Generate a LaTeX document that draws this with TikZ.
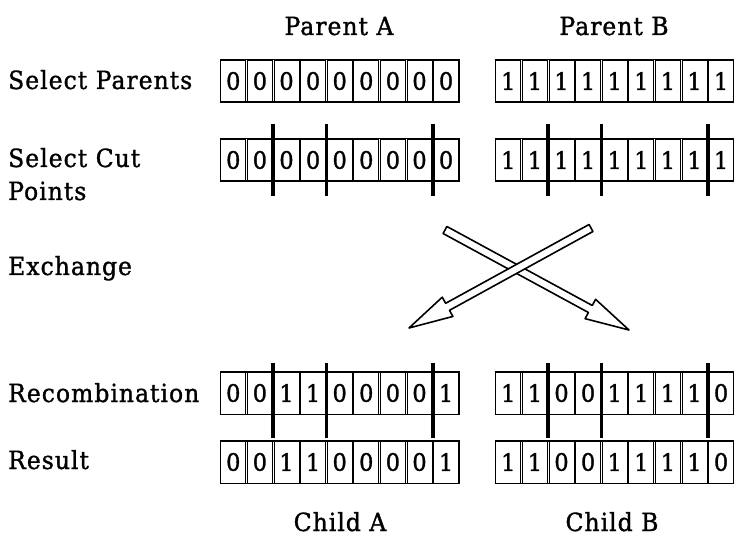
\documentclass[tikz,border=0pt]{standalone}
\usepackage{fontspec}
\setmainfont{DejaVu Serif}[FakeStretch=0.94,FakeBold=1.2,LetterSpace=4]
\newfontfamily\bitfont{DejaVu Serif}[FakeStretch=0.94,FakeBold=1.2]
\usetikzlibrary{calc,fit,positioning}

% one string of nine bits: name, left x, centre y, bits
\newcommand{\bitrow}[4]{%
  \foreach \b [count=\i] in {#4} {
    \node[bit] (#1\i) at ({#2+(\i-1)*26.6+13.3},#3) {\b};
  }
  \node[frame,fit=(#11)(#19)] (#1) {};
}
% outlined arrow from tail to tip
\newcommand{\hollowarrow}[2]{%
  \coordinate (hd) at ($(#2)!44pt!(#1)$);
  \draw[xarrow] ($(#1)!4pt!90:(#2)$) -- ($(hd)!4pt!90:(#2)$) -- ($(hd)!11pt!90:(#2)$)
    -- (#2) -- ($(hd)!11pt!-90:(#2)$) -- ($(hd)!4pt!-90:(#2)$) -- ($(#1)!4pt!-90:(#2)$) -- cycle;
}

\begin{document}
\begin{tikzpicture}[
  x=1pt,y=-1pt,
  bit/.style={draw,line width=0.8pt,minimum width=25pt,minimum height=42pt,inner sep=0pt,outer sep=0pt,
    font=\bitfont\fontsize{24}{24}\selectfont},
  frame/.style={draw,line width=1.6pt,inner sep=0.3pt},
  cut/.style={line width=3.6pt},
  lab/.style={anchor=base west,align=left,inner sep=0pt,font=\fontsize{25}{33}\selectfont},
  head/.style={anchor=base,inner sep=0pt,font=\fontsize{25}{25}\selectfont},
  xarrow/.style={draw,fill=white,line width=1.6pt,line join=round}
]
\useasboundingbox (0,0) rectangle (734,540);
\clip (0,0) rectangle (734,540);

% column heads
\node[head] (hpa) at (339,35) {Parent A};
\node[head] (hpb) at (614,35) {Parent B};
\node[head] (hca) at (340,531) {Child A};
\node[head] (hcb) at (612,531) {Child B};

% step labels
\node[lab] (lsel) at (8,89) {Select Parents};
\node[lab] (lcut) at (8,200) {Select Cut\\Points};
\node[lab] (lexc) at (8,275) {Exchange};
\node[lab] (lrec) at (8,402) {Recombination};
\node[lab] (lres) at (8,469) {Result};

% bit strings
\bitrow{pa}{220}{81}{0,0,0,0,0,0,0,0,0}
\bitrow{pb}{495}{81}{1,1,1,1,1,1,1,1,1}
\bitrow{ca}{220}{160}{0,0,0,0,0,0,0,0,0}
\bitrow{cb}{495}{160}{1,1,1,1,1,1,1,1,1}
\bitrow{ra}{220}{393}{0,0,1,1,0,0,0,0,1}
\bitrow{rb}{495}{393}{1,1,0,0,1,1,1,1,0}
\bitrow{sa}{220}{462}{0,0,1,1,0,0,0,0,1}
\bitrow{sb}{495}{462}{1,1,0,0,1,1,1,1,0}

% cut points
\foreach \rw/\up/\dn in {ca/15/15,cb/15/15,ra/9/24,rb/9/24}
  \foreach \k in {2,4,8}
    \draw[cut] ([xshift=0.8pt,yshift=\up pt]\rw\k.north east)
      -- ([xshift=0.8pt,yshift=-\dn pt]\rw\k.south east);

% exchange
\coordinate (xa1) at (445,230);
\coordinate (xb1) at (629,330);
\coordinate (xa2) at (591,228);
\coordinate (xb2) at (409,328);
\hollowarrow{xa1}{xb1}
\hollowarrow{xa2}{xb2}
\end{tikzpicture}
\end{document}
